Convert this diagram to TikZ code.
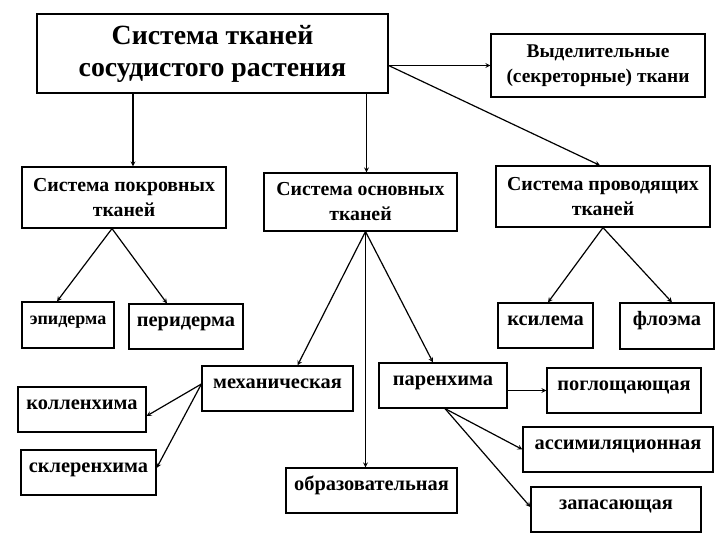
\documentclass[tikz,border=0pt]{standalone}
\usepackage{fontspec}
\setmainfont{Liberation Serif}
\tikzstyle{box}=[draw=black, shape=rectangle, line width=1.2pt, align=center, inner sep=2pt, font=\bfseries]
\tikzstyle{title}=[font=\fontsize{27.8}{32}\selectfont\bfseries]
\tikzstyle{sys}=[font=\fontsize{19.8}{25}\selectfont\bfseries]
\tikzstyle{leaf}=[font=\fontsize{20.4}{22}\selectfont\bfseries, text height=10pt, text depth=11pt]
\tikzstyle{arr}=[->, line width=1.2pt, >=stealth]

\begin{document}
\begin{tikzpicture}[x=1pt, y=-1pt]
		\useasboundingbox (0,0) rectangle (720,540);

		\node [style=box, style=title, minimum width=351pt, minimum height=79pt] (1) at (212.5, 53.5) {Система тканей\\сосудистого растения};
		\node [style=box, font=\fontsize{19.4}{25}\selectfont\bfseries, minimum width=214pt, minimum height=63pt] (2) at (598, 65.5) {Выделительные\\(секреторные) ткани};

		\node [style=box, style=sys, minimum width=204pt, minimum height=61pt] (10) at (124, 197.5) {Система покровных\\тканей};
		\node [style=box, style=sys, minimum width=193pt, minimum height=58pt] (11) at (360.5, 202) {Система основных\\тканей};
		\node [style=box, style=sys, minimum width=214pt, minimum height=61pt] (12) at (603, 196.5) {Система проводящих\\тканей};

		\node [style=box, style=leaf, font=\fontsize{18}{20}\selectfont\bfseries, minimum width=92pt, minimum height=46pt] (20) at (68, 325) {эпидерма};
		\node [style=box, style=leaf, minimum width=114pt, minimum height=45pt] (21) at (186, 326.5) {перидерма};
		\node [style=box, style=leaf, minimum width=95pt, minimum height=45pt] (22) at (545.5, 325.5) {ксилема};
		\node [style=box, style=leaf, minimum width=94pt, minimum height=46pt] (23) at (667, 326) {флоэма};

		\node [style=box, style=leaf, minimum width=151pt, minimum height=45pt] (30) at (277.5, 388.5) {механическая};
		\node [style=box, style=leaf, minimum width=128pt, minimum height=45pt] (31) at (443, 385.5) {паренхима};
		\node [style=box, style=leaf, minimum width=171pt, minimum height=45pt] (32) at (371.5, 490.5) {образовательная};

		\node [style=box, style=leaf, minimum width=128pt, minimum height=45pt] (40) at (82, 409.5) {колленхима};
		\node [style=box, style=leaf, minimum width=135pt, minimum height=45pt] (41) at (88.5, 472.5) {склеренхима};

		\node [style=box, style=leaf, minimum width=154pt, minimum height=45pt] (50) at (624, 390.5) {поглощающая};
		\node [style=box, style=leaf, minimum width=190pt, minimum height=45pt] (51) at (618, 449.5) {ассимиляционная};
		\node [style=box, style=leaf, minimum width=170pt, minimum height=45pt] (52) at (616, 509.5) {запасающая};

		\draw [style=arr] ([xshift=9pt]10.north |- 1.south) to ([xshift=9pt]10.north);
		\draw [style=arr] ([xshift=6pt]11.north |- 1.south) to ([xshift=6pt]11.north);
		\draw [style=arr] (2.west -| 1.east) to (2.west);
		\draw [style=arr] (2.west -| 1.east) to ([xshift=-3pt]12.north);

		\draw [style=arr] ([xshift=-12pt]10.south) to ([xshift=-11pt]20.north);
		\draw [style=arr] ([xshift=-12pt]10.south) to ([xshift=-19pt]21.north);

		\draw [style=arr] ([xshift=5pt]11.south) to ([xshift=20pt]30.north);
		\draw [style=arr] ([xshift=5pt]11.south) to ([xshift=-10pt]31.north);
		\draw [style=arr] ([xshift=5pt]11.south) to ([xshift=5pt]11.south |- 32.north);

		\draw [style=arr] (12.south) to ([xshift=2.5pt]22.north);
		\draw [style=arr] (12.south) to ([xshift=5pt]23.north);

		\draw [style=arr] ([yshift=4.5pt]30.west) to ([yshift=-6.5pt]40.east);
		\draw [style=arr] ([yshift=4.5pt]30.west) to ([yshift=4.5pt]41.east);

		\draw [style=arr] (31.east |- 50.west) to (50.west);
		\draw [style=arr] ([xshift=2pt]31.south) to (51.west);
		\draw [style=arr] ([xshift=2pt]31.south) to ([yshift=2.5pt]52.west);
	\end{tikzpicture}
\end{document}
